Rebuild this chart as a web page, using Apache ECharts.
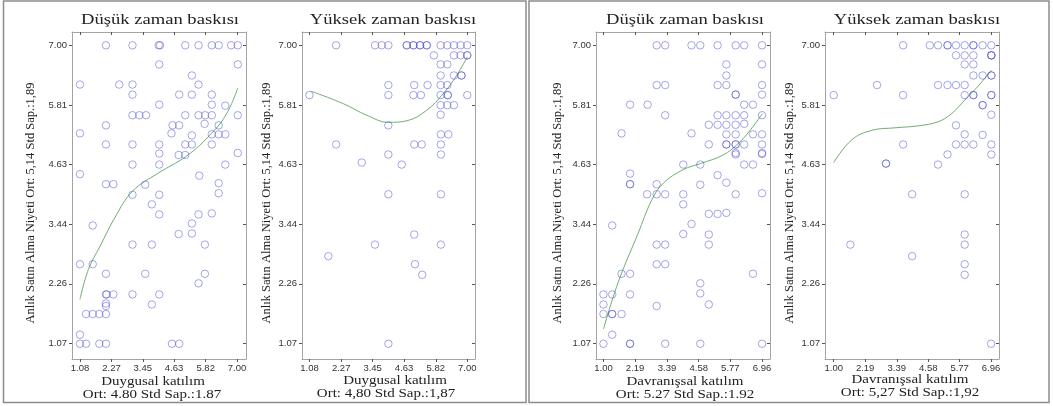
<!DOCTYPE html>
<html>
<head>
<meta charset="utf-8">
<script src="https://cdn.jsdelivr.net/npm/echarts@6/dist/echarts.min.js"></script>
<style>
html,body{margin:0;padding:0;background:#fff}
#chart{width:1053px;height:406px}
</style>
</head>
<body>
<div id="chart"></div>
<script>
var chart = echarts.init(document.getElementById('chart'));

/* tick labels */
var yTicks = [1.07, 2.26, 3.44, 4.63, 5.81, 7.00];
var xTicksDuygusal = [1.08, 2.27, 3.45, 4.63, 5.82, 7.00];
var xTicksDavranis = [1.00, 2.19, 3.39, 4.58, 5.77, 6.96];

/* texts */
var titles = ['Düşük zaman baskısı', 'Yüksek zaman baskısı', 'Düşük zaman baskısı', 'Yüksek zaman baskısı'];
var xNames = ['Duygusal katılım', 'Duygusal katılım', 'Davranışsal katılım', 'Davranışsal katılım'];
var xStats = ['Ort: 4.80 Std Sap.:1.87', 'Ort: 4,80 Std Sap.:1,87', 'Ort: 5.27 Std Sap.:1.92', 'Ort: 5,27 Std Sap.:1,92'];
var yName = 'Anlık Satın Alma Niyeti Ort: 5,14 Std Sap.:1,89';

/* Düşük zaman baskısı - Duygusal katılım */
var pts1 = [
  [2.06,7],[3.06,7],[4.05,7],[4.10,7],[5.05,7],[5.55,7],[6.05,7],[6.31,7],[6.78,7],[7.03,7],
  [4.07,6.62],[7.03,6.62],[5.30,6.40],
  [1.08,6.22],[2.56,6.22],[3.06,6.22],[5.55,6.22],
  [3.06,6.02],[4.82,6.02],[5.30,6.02],[6.05,6.02],
  [4.07,5.82],[6.05,5.82],[6.56,5.80],
  [3.06,5.61],[3.32,5.61],[3.57,5.61],[5.05,5.61],[5.55,5.61],[5.80,5.61],[6.05,5.61],[7.03,5.61],
  [5.78,5.44],[2.06,5.41],[4.57,5.41],[4.82,5.41],[6.31,5.41],
  [1.08,5.25],[4.53,5.25],[5.30,5.21],[6.05,5.23],[6.31,5.23],[6.56,5.23],
  [2.06,5.03],[3.06,5.03],[4.07,5.03],[5.05,5.03],[5.30,5.03],[6.05,5.03],
  [4.07,4.85],[7.03,4.86],[4.80,4.82],[5.05,4.82],
  [3.06,4.63],[4.07,4.63],[6.56,4.63],
  [1.08,4.44],[5.58,4.41],
  [2.06,4.24],[2.34,4.24],[3.54,4.23],[6.31,4.26],
  [3.06,4.03],[4.07,4.03],[6.31,4.06],[3.79,3.84],
  [4.07,3.64],[5.55,3.64],[6.05,3.66],
  [1.56,3.42],[5.30,3.46],[4.80,3.25],[5.30,3.26],
  [3.06,3.04],[3.79,3.04],[5.79,3.04],
  [1.08,2.65],[1.56,2.65],
  [2.06,2.46],[3.54,2.46],[5.79,2.46],[5.55,2.27],
  [2.06,2.05],[2.09,2.05],[2.34,2.05],[3.06,2.05],[4.07,2.05],
  [2.06,1.87],[2.06,1.82],[3.79,1.85],
  [1.31,1.66],[1.56,1.66],[1.81,1.66],[2.06,1.66],
  [1.08,1.25],
  [1.08,1.07],[1.31,1.07],[1.81,1.07],[2.06,1.07],[4.55,1.07],[4.82,1.07]
];
var fit1 = [[1.08,1.95],[1.40,2.55],[1.83,3.00],[2.40,3.58],[3.06,4.10],[4.00,4.45],[5.10,4.80],[6.04,5.25],[6.61,5.64],[7.03,6.15]];

/* Yüksek zaman baskısı - Duygusal katılım */
var pts2 = [
  [2.08,7],[3.54,7],[3.79,7],[4.04,7],[4.73,7],[4.73,7],[4.98,7],[4.98,7],[5.23,7],[5.23,7],[5.48,7],[5.48,7],
  [6.00,7],[6.25,7],[6.50,7],[6.75,7],[7.00,7],
  [5.75,6.80],[6.50,6.80],[6.75,6.80],[7.00,6.80],[7.00,6.80],
  [6.00,6.62],[6.25,6.62],
  [6.00,6.40],[6.50,6.40],[6.78,6.40],[6.78,6.40],
  [4.04,6.21],[5.01,6.21],[5.51,6.21],[6.00,6.21],[6.25,6.21],
  [1.08,6.01],[4.04,6.01],[4.98,6.01],[5.26,6.01],[6.00,6.01],[6.27,6.01],[6.27,6.01],[7.00,6.01],
  [6.00,5.81],[6.25,5.81],[6.50,5.81],
  [6.00,5.62],[4.04,5.41],[6.01,5.23],[6.29,5.23],
  [2.08,5.03],[5.01,5.03],[5.29,5.03],[6.01,5.03],
  [4.04,4.83],[6.01,4.83],[3.04,4.67],[4.54,4.63],
  [4.04,4.04],[6.01,4.04],
  [5.01,3.24],[3.54,3.04],[6.01,3.04],[1.79,2.81],[5.04,2.65],[5.31,2.44],
  [4.04,1.07]
];
var fit2 = [[1.13,6.09],[2.35,5.84],[3.23,5.61],[4.04,5.47],[4.73,5.50],[5.48,5.71],[6.10,6.04],[6.60,6.40],[7.00,6.77]];

/* Düşük zaman baskısı - Davranışsal katılım */
var pts3 = [
  [3.00,7],[3.32,7],[4.31,7],[4.64,7],[5.29,7],[5.97,7],[6.29,7],[6.96,7],
  [5.62,6.62],[6.96,6.62],[5.62,6.40],
  [3.00,6.21],[3.32,6.21],[5.29,6.21],[5.62,6.21],[6.96,6.21],
  [5.97,6.02],[5.97,6.02],[6.96,6.02],
  [2.00,5.82],[2.66,5.82],[6.29,5.82],[6.62,5.82],
  [3.32,5.61],[5.29,5.61],[5.62,5.61],[5.97,5.61],[6.29,5.61],[6.96,5.61],
  [4.96,5.42],[5.29,5.42],[5.62,5.42],[5.97,5.42],[6.29,5.44],
  [1.68,5.25],[4.31,5.25],[5.62,5.23],[5.97,5.23],[6.62,5.23],[6.96,5.23],
  [4.96,5.03],[5.62,5.03],[5.62,5.03],[5.97,5.03],[5.97,5.03],[6.29,5.03],[6.96,5.03],
  [5.97,4.83],[5.97,4.86],[6.96,4.86],[6.96,4.84],
  [4.00,4.63],[4.64,4.63],[6.29,4.63],[6.62,4.63],
  [2.00,4.45],[5.29,4.42],
  [2.00,4.24],[2.00,4.24],[3.00,4.24],[4.64,4.23],[5.62,4.27],
  [2.64,4.04],[3.00,4.04],[3.32,4.04],[4.00,4.04],[5.97,4.04],[6.96,4.06],
  [4.00,3.84],[4.96,3.65],[5.29,3.65],[5.62,3.67],
  [1.33,3.42],[4.31,3.45],[4.00,3.25],[4.96,3.24],
  [3.00,3.04],[3.32,3.04],[4.96,3.04],
  [3.00,2.65],[3.32,2.65],
  [1.68,2.46],[2.00,2.46],[6.62,2.46],[4.64,2.27],
  [1.00,2.05],[1.33,2.05],[2.00,2.05],[4.64,2.07],
  [1.00,1.85],[3.00,1.82],[4.96,1.85],
  [1.00,1.66],[1.33,1.66],[1.33,1.66],[1.68,1.66],
  [1.33,1.25],
  [1.00,1.07],[2.00,1.07],[2.00,1.07],[3.32,1.07],[4.64,1.07],[6.96,1.07]
];
var fit3 = [[1.00,1.36],[1.33,1.94],[1.68,2.47],[2.30,3.26],[2.81,3.92],[3.25,4.26],[4.00,4.53],[4.65,4.65],[5.50,4.82],[6.07,5.05],[6.51,5.31],[6.97,5.64]];

/* Yüksek zaman baskısı - Davranışsal katılım */
var pts4 = [
  [3.63,7],[4.64,7],[4.95,7],[5.31,7],[5.31,7],[5.63,7],[5.96,7],[6.29,7],[6.29,7],[6.64,7],[6.97,7],
  [5.63,6.80],[5.96,6.80],[6.29,6.80],[6.97,6.80],[6.97,6.80],[6.97,6.80],
  [5.96,6.62],[6.29,6.62],
  [6.29,6.40],[6.64,6.40],[6.97,6.40],[6.97,6.40],
  [2.64,6.21],[4.95,6.21],[5.31,6.21],[5.63,6.21],[5.96,6.21],
  [1.00,6.01],[3.63,6.01],[5.96,6.01],[6.29,6.01],[6.29,6.01],[6.97,6.01],[6.97,6.01],
  [6.64,5.81],[6.64,5.81],[6.97,5.62],[5.63,5.41],
  [5.96,5.23],[6.64,5.22],
  [3.63,5.03],[5.63,5.03],[5.96,5.03],[6.29,5.03],[6.97,5.03],
  [5.31,4.83],[6.97,4.83],
  [2.98,4.65],[2.98,4.65],[4.95,4.63],
  [3.97,4.04],[5.96,4.04],
  [5.96,3.24],[1.63,3.04],[5.96,3.04],[3.97,2.81],[5.96,2.65],[5.96,2.44],
  [6.96,1.07]
];
var fit4 = [[1.00,4.67],[1.68,5.12],[2.44,5.31],[3.32,5.36],[4.20,5.40],[4.95,5.48],[5.46,5.64],[5.96,5.91],[6.47,6.19],[6.97,6.50]];

var points = [pts1, pts2, pts3, pts4];
var fits = [fit1, fit2, fit3, fit4];
var xTicks = [xTicksDuygusal, xTicksDuygusal, xTicksDavranis, xTicksDavranis];

/* layout */
var panels = [
  {left: 72,  width: 174, xMin: 0.78, xMax: 7.34, titleX: 160, nameX: 153, statX: 152, nameY: 382, statY: 394.5, yNameX: 31},
  {left: 302, width: 173, xMin: 0.80, xMax: 7.29, titleX: 393, nameX: 395, statX: 386, nameY: 381, statY: 393.5, yNameX: 267},
  {left: 596, width: 174, xMin: 0.72, xMax: 7.26, titleX: 685, nameX: 685, statX: 685, nameY: 382, statY: 395, yNameX: 558},
  {left: 825, width: 174, xMin: 0.67, xMax: 7.26, titleX: 917, nameX: 910, statX: 910, nameY: 380, statY: 392.5, yNameX: 790}
];
var gridTop = 32, gridHeight = 327, yMin = 0.767, yMax = 7.264;

var boxColor = '#a4a4a4';
var tickColor = '#555';
var fmt = function (v) { return v.toFixed(2); };

var grids = [], xAxes = [], yAxes = [], series = [], graphics = [];

graphics.push({type: 'rect', shape: {x: 3.5, y: 1, width: 522.5, height: 401.5}, style: {fill: 'none', stroke: '#8c8c8c', lineWidth: 1.5}});
graphics.push({type: 'rect', shape: {x: 529, y: 1, width: 520, height: 401.5}, style: {fill: 'none', stroke: '#8c8c8c', lineWidth: 1.5}});

panels.forEach(function (p, i) {
  grids.push({left: p.left, top: gridTop, width: p.width, height: gridHeight, outerBoundsMode: 'none'});

  xAxes.push({
    gridIndex: i, type: 'value', position: 'bottom', min: p.xMin, max: p.xMax,
    axisLine: {show: true, onZero: false, lineStyle: {color: boxColor}},
    axisTick: {show: true, customValues: xTicks[i], length: 3, lineStyle: {color: tickColor}},
    axisLabel: {customValues: xTicks[i], formatter: fmt, margin: 4, fontSize: 9.5, color: '#333', fontFamily: 'Liberation Sans'},
    splitLine: {show: false}
  });
  xAxes.push({
    gridIndex: i, type: 'value', position: 'top', min: p.xMin, max: p.xMax,
    axisLine: {show: true, onZero: false, lineStyle: {color: boxColor}},
    axisTick: {show: true, inside: true, customValues: xTicks[i], length: 3, lineStyle: {color: tickColor}},
    axisLabel: {show: false},
    splitLine: {show: false}
  });
  yAxes.push({
    gridIndex: i, type: 'value', position: 'left', min: yMin, max: yMax,
    axisLine: {show: true, onZero: false, lineStyle: {color: boxColor}},
    axisTick: {show: true, customValues: yTicks, length: 3, lineStyle: {color: tickColor}},
    axisLabel: {customValues: yTicks, formatter: fmt, margin: 5, fontSize: 9.5, color: '#333', fontFamily: 'Liberation Sans'},
    splitLine: {show: false}
  });
  yAxes.push({
    gridIndex: i, type: 'value', position: 'right', min: yMin, max: yMax,
    axisLine: {show: true, onZero: false, lineStyle: {color: boxColor}},
    axisTick: {show: true, inside: true, customValues: yTicks, length: 3, lineStyle: {color: tickColor}},
    axisLabel: {show: false},
    splitLine: {show: false}
  });

  series.push({
    type: 'scatter', xAxisIndex: i * 2, yAxisIndex: i * 2,
    data: points[i], symbol: 'circle', symbolSize: 7.5,
    itemStyle: {color: 'rgba(0,0,0,0)', borderColor: 'rgba(70,70,205,0.6)', borderWidth: 1},
    emphasis: {disabled: true}, silent: true
  });
  series.push({
    type: 'line', xAxisIndex: i * 2, yAxisIndex: i * 2,
    data: fits[i], smooth: 0.4, showSymbol: false,
    lineStyle: {color: '#6fae6f', width: 1}, silent: true, z: 1
  });

  graphics.push({type: 'text', x: p.titleX, y: 19.7, scaleX: 1.2,
    style: {text: titles[i], font: '15.5px "Liberation Serif"', fill: '#222', align: 'center', verticalAlign: 'middle', textAlign: 'center', textVerticalAlign: 'middle'}});
  graphics.push({type: 'text', x: p.nameX, y: p.nameY, scaleX: 1.2,
    style: {text: xNames[i], font: '12.5px "Liberation Serif"', fill: '#222', align: 'center', verticalAlign: 'middle', textAlign: 'center', textVerticalAlign: 'middle'}});
  graphics.push({type: 'text', x: p.statX, y: p.statY, scaleX: 1.2,
    style: {text: xStats[i], font: '12.5px "Liberation Serif"', fill: '#222', align: 'center', verticalAlign: 'middle', textAlign: 'center', textVerticalAlign: 'middle'}});
  graphics.push({type: 'text', x: p.yNameX, y: 203, rotation: Math.PI / 2,
    style: {text: yName, font: '12.5px "Liberation Serif"', fill: '#222', align: 'center', verticalAlign: 'middle', textAlign: 'center', textVerticalAlign: 'middle'}});
});

chart.setOption({
  backgroundColor: '#fff',
  animation: false,
  grid: grids,
  xAxis: xAxes,
  yAxis: yAxes,
  series: series,
  graphic: graphics
});
</script>
</body>
</html>
